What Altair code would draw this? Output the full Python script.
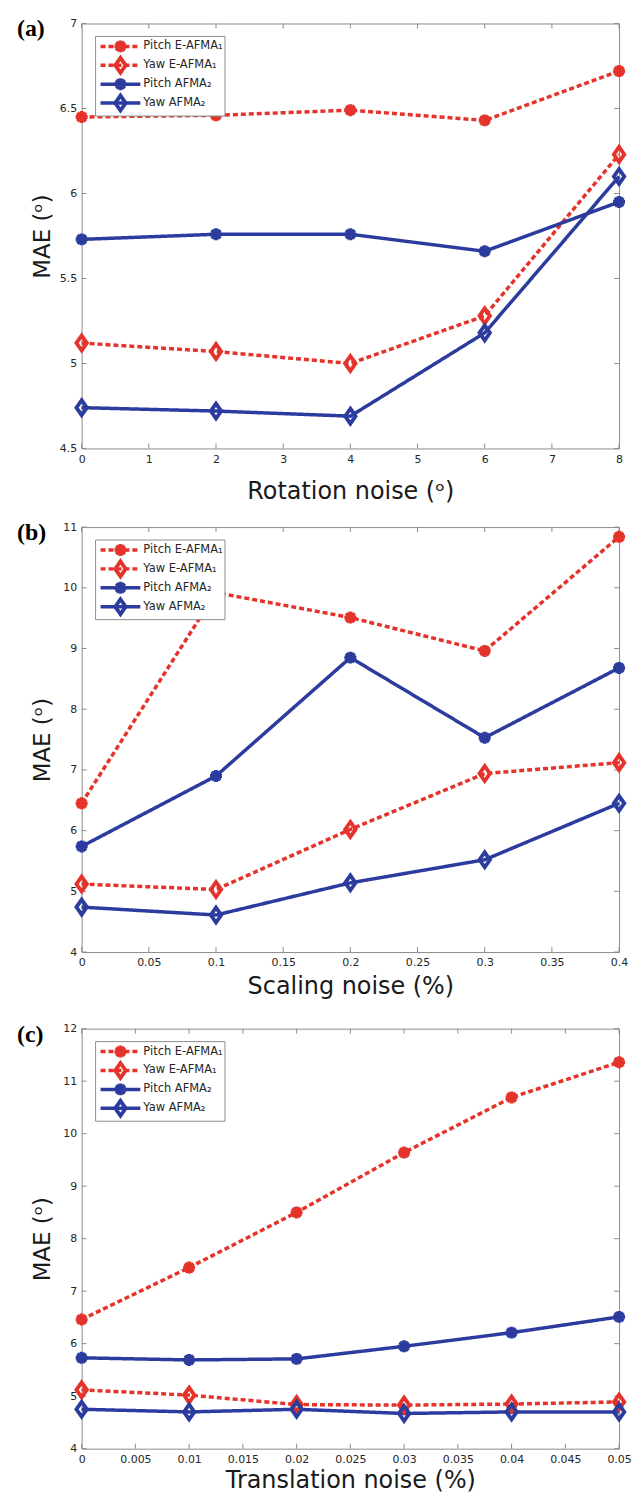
import altair as alt
import pandas as pd

SERIES = ["Pitch E-AFMA₁", "Yaw E-AFMA₁", "Pitch AFMA₂", "Yaw AFMA₂"]
RED = "#E5322A"
BLUE = "#2C3B9E"
COLORS = [RED, RED, BLUE, BLUE]
DASHES = [[5, 3], [5, 3], [1, 0], [1, 0]]
AST = "M-0.8,0L0.8,0M0,-0.8L0,0.8M-0.57,-0.57L0.57,0.57M-0.57,0.57L0.57,-0.57"
DIA = "M0,-1L0.7,0L0,1L-0.7,0Z"
SHAPES = [AST, DIA, AST, DIA]

# (a) rotation noise
rot_x = [0, 2, 4, 6, 8]
rot_pitch_e = [6.45, 6.46, 6.49, 6.43, 6.72]
rot_yaw_e = [5.12, 5.07, 5.00, 5.28, 6.23]
rot_pitch_a = [5.73, 5.76, 5.76, 5.66, 5.95]
rot_yaw_a = [4.74, 4.72, 4.69, 5.18, 6.10]
rot_xticks = [0, 1, 2, 3, 4, 5, 6, 7, 8]
rot_yticks = [4.5, 5, 5.5, 6, 6.5, 7]

# (b) scaling noise
sca_x = [0, 0.1, 0.2, 0.3, 0.4]
sca_pitch_e = [6.45, 9.92, 9.51, 8.96, 10.84]
sca_yaw_e = [5.12, 5.03, 6.02, 6.94, 7.12]
sca_pitch_a = [5.74, 6.90, 8.85, 7.53, 8.68]
sca_yaw_a = [4.74, 4.61, 5.14, 5.52, 6.45]
sca_xticks = [0, 0.05, 0.1, 0.15, 0.2, 0.25, 0.3, 0.35, 0.4]
sca_yticks = [4, 5, 6, 7, 8, 9, 10, 11]

# (c) translation noise
tra_x = [0, 0.01, 0.02, 0.03, 0.04, 0.05]
tra_pitch_e = [6.46, 7.45, 8.50, 9.64, 10.69, 11.36]
tra_yaw_e = [5.12, 5.02, 4.84, 4.83, 4.85, 4.89]
tra_pitch_a = [5.73, 5.69, 5.71, 5.95, 6.21, 6.51]
tra_yaw_a = [4.75, 4.70, 4.75, 4.67, 4.70, 4.70]
tra_xticks = [0, 0.005, 0.01, 0.015, 0.02, 0.025, 0.03, 0.035, 0.04, 0.045, 0.05]
tra_yticks = [4, 5, 6, 7, 8, 9, 10, 11, 12]

W = 540
GRAY = "#8c8c8c"
ONE = pd.DataFrame({"k": [0]})


def panel(label, xs, series_vals, xdom, xticks, ydom, yticks, xtitle, title_y, H):
    rows = []
    for name, vals in zip(SERIES, series_vals):
        for x, y in zip(xs, vals):
            rows.append({"x": x, "y": y, "series": name})
    df = pd.DataFrame(rows)

    xaxis = alt.Axis(values=xticks, format="~g", title=xtitle, ticks=False, domain=False,
                     grid=False, labelPadding=5, titleY=title_y, titleX=W / 2,
                     titleAlign="center", titleBaseline="alphabetic", titleFontSize=24,
                     labelFlush=False)
    yaxis = alt.Axis(values=yticks, format="~g", title="MAE (ᵒ)", ticks=False, domain=False,
                     grid=False, labelPadding=5, titleX=-32, titleY=H / 2, titleAngle=270,
                     titleAlign="center", titleBaseline="alphabetic", titleFontSize=23,
                     labelFlush=False)
    xs_scale = alt.Scale(domain=xdom, nice=False, zero=False)
    ys_scale = alt.Scale(domain=ydom, nice=False, zero=False)
    X = alt.X("x:Q", scale=xs_scale, axis=xaxis)
    Y = alt.Y("y:Q", scale=ys_scale, axis=yaxis)

    xt = pd.DataFrame({"x": xticks})
    yt = pd.DataFrame({"y": yticks})
    tick_bottom = alt.Chart(xt).mark_rule(color=GRAY, strokeWidth=1).encode(
        x=X, y=alt.value(H), y2=alt.value(H - 5))
    tick_top = alt.Chart(xt).mark_rule(color=GRAY, strokeWidth=1).encode(
        x=X, y=alt.value(0), y2=alt.value(5))
    tick_left = alt.Chart(yt).mark_rule(color=GRAY, strokeWidth=1).encode(
        y=Y, x=alt.value(0), x2=alt.value(5))
    tick_right = alt.Chart(yt).mark_rule(color=GRAY, strokeWidth=1).encode(
        y=Y, x=alt.value(W), x2=alt.value(W - 5))

    color = alt.Color("series:N", scale=alt.Scale(domain=SERIES, range=COLORS), legend=None)
    lines = alt.Chart(df).mark_line(strokeWidth=3.5).encode(
        x=X, y=Y, color=color,
        strokeDash=alt.StrokeDash("series:N", scale=alt.Scale(domain=SERIES, range=DASHES), legend=None),
        detail="series:N")
    points = alt.Chart(df).mark_point(filled=False, strokeWidth=3.8, size=225, opacity=1).encode(
        x=X, y=Y, color=color,
        shape=alt.Shape("series:N", scale=alt.Scale(domain=SERIES, range=SHAPES), legend=None))

    layers = [tick_bottom, tick_top, tick_left, tick_right, lines, points]

    box = alt.Chart(ONE).mark_rect(fill="white", stroke=GRAY, strokeWidth=1).encode(
        x=alt.value(14), x2=alt.value(144), y=alt.value(13), y2=alt.value(93))
    layers.append(box)
    for i, name in enumerate(SERIES):
        yy = 23 + 19 * i
        layers.append(alt.Chart(ONE).mark_rule(color=COLORS[i], strokeWidth=3.5,
                                               strokeDash=DASHES[i]).encode(
            x=alt.value(19), x2=alt.value(59), y=alt.value(yy)))
        layers.append(alt.Chart(ONE).mark_point(shape=SHAPES[i], size=225, filled=False,
                                                strokeWidth=3.8, color=COLORS[i], opacity=1).encode(
            x=alt.value(39), y=alt.value(yy)))
        layers.append(alt.Chart(ONE).mark_text(align="left", baseline="middle", fontSize=11.5,
                                               font="DejaVu Sans", color="#262626").encode(
            x=alt.value(62), y=alt.value(yy), text=alt.value(name)))

    layers.append(alt.Chart(ONE).mark_text(align="left", baseline="middle", fontSize=24,
                                           font="Liberation Serif", fontWeight="bold",
                                           color="black").encode(
        x=alt.value(-65), y=alt.value(6), text=alt.value(label)))

    return alt.layer(*layers).properties(width=W, height=H)


pa = panel("(a)", rot_x, [rot_pitch_e, rot_yaw_e, rot_pitch_a, rot_yaw_a],
           [0, 8], rot_xticks, [4.5, 7], rot_yticks, "Rotation noise (ᵒ)", 50, 427)
pb = panel("(b)", sca_x, [sca_pitch_e, sca_yaw_e, sca_pitch_a, sca_yaw_a],
           [0, 0.4], sca_xticks, [4, 11], sca_yticks, "Scaling noise (%)", 42, 427)
pc = panel("(c)", tra_x, [tra_pitch_e, tra_yaw_e, tra_pitch_a, tra_yaw_a],
           [0, 0.05], tra_xticks, [4, 12], tra_yticks, "Translation noise (%)", 39, 422)

chart = alt.vconcat(alt.vconcat(pa, pb, spacing=16), pc, spacing=22).properties(
    padding={"left": 8, "top": 5, "right": 0, "bottom": 0}
).configure_view(stroke=GRAY, strokeWidth=1).configure_axis(
    labelFont="DejaVu Sans", labelFontSize=11, labelColor="#262626",
    titleFont="DejaVu Sans", titleColor="#1a1a1a", titleFontWeight="normal"
)

chart.save("out.html", embed_options={"renderer": "svg", "actions": False})
